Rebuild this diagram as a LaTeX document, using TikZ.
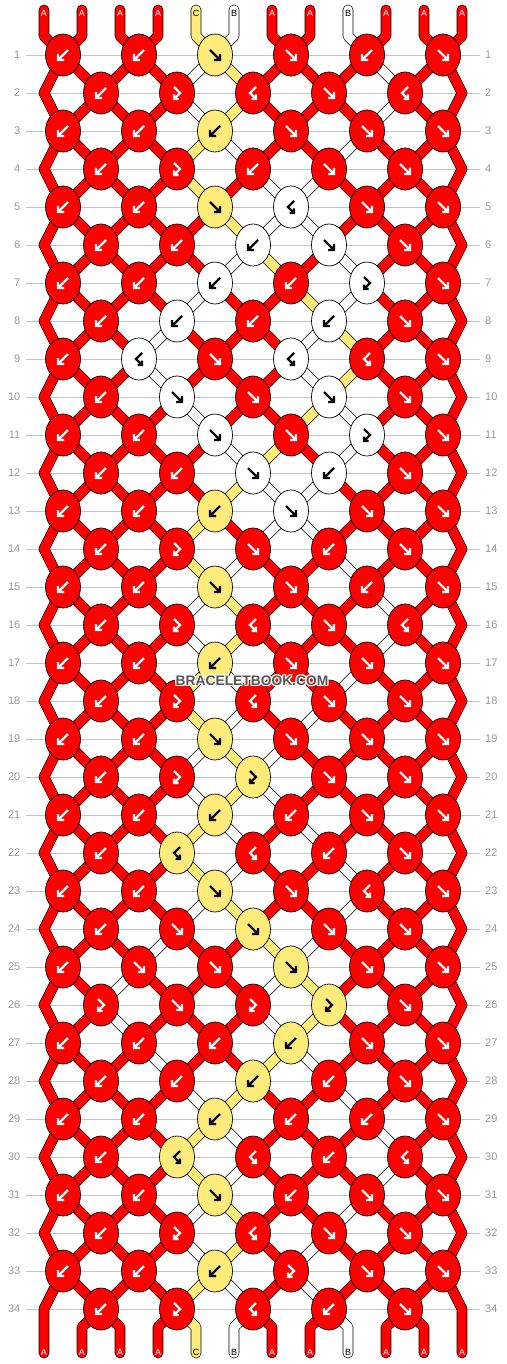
\documentclass[tikz,border=0pt]{standalone}
\usepackage{fontspec}
\setmainfont{Liberation Sans}
\pgfdeclarelayer{knots}
\pgfsetlayers{main,knots}

\definecolor{strA}{HTML}{FF0000}
\definecolor{strB}{HTML}{FFFFFF}
\definecolor{strC}{HTML}{FFEB7A}
\colorlet{arrA}{white}
\colorlet{arrB}{black}
\colorlet{arrC}{black}
\definecolor{rowgrey}{HTML}{C4C4C4}
\definecolor{numgrey}{HTML}{999999}
\definecolor{brandgrey}{HTML}{555555}

\tikzset{
  strand/.style={draw=black, line width=0.65pt, double=str#1, double distance=9.4pt,
    line cap=round, line join=round},
  knotbox/.style={draw=black, line width=0.7pt, fill=str#1},
  knotarrow/.style={line width=2.4pt, line cap=butt, line join=miter},
  rowline/.style={rowgrey, line width=0.8pt},
  rownum/.style={numgrey, font=\fontsize{11}{11}\selectfont, inner sep=0pt},
  tablabel/.style={font=\fontsize{9}{9}\selectfont, inner sep=0pt},
  brandtext/.style={font=\fontsize{13.8}{14}\selectfont\bfseries, inner sep=0pt}
}

% arrow glyphs drawn inside a knot
\newcommand{\glyphf}{\draw[knotarrow] (-5,-5) -- (5,5) (5,-1) -- (5,5) -- (-1,5);}
\newcommand{\glyphb}{\draw[knotarrow] (5,-5) -- (-5,5) (-5,-1) -- (-5,5) -- (1,5);}
\newcommand{\glyphfb}{\draw[knotarrow] (-3,-6) -- (3,0) -- (-3,6) (-3,1.5) -- (-3,6) -- (1.5,6);}
\newcommand{\glyphbf}{\draw[knotarrow] (3,-6) -- (-3,0) -- (3,6) (3,1.5) -- (3,6) -- (-1.5,6);}

% knot kinds: colour from left string?  strings swap?
\newcommand{\setknotf}{\def\takeleft{1}\def\doswap{1}}
\newcommand{\setknotb}{\def\takeleft{0}\def\doswap{1}}
\newcommand{\setknotfb}{\def\takeleft{1}\def\doswap{0}}
\newcommand{\setknotbf}{\def\takeleft{0}\def\doswap{0}}

\begin{document}
\begin{tikzpicture}[x=1pt, y=-1pt]
\fill[white] (0,0) rectangle (506,1364);
\useasboundingbox (0,0) rectangle (506,1364);

% row rules and numbers
\foreach \row in {1,...,34} {
  \pgfmathsetmacro\ky{55+38*(\row-1)}
  \draw[rowline] (26,\ky) -- (480,\ky);
  \node[rownum, anchor=east] (numl\row) at (20.5,\ky) {\row};
  \node[rownum, anchor=west] (numr\row) at (485,\ky) {\row};
}

% strings at the top
\foreach \strc [count=\p] in {A,A,A,A,C,B,A,A,B,A,A,A} {
  \pgfmathsetmacro\sx{44+38*(\p-1)}
  \expandafter\xdef\csname s\p\endcsname{\strc}
  \expandafter\xdef\csname pp\p\endcsname{(\sx,10) -- (\sx,36)}
  \begin{pgfonlayer}{knots}
    \edef\labcmd{\noexpand\node[tablabel, text=arr\strc] (top\p) at (\sx,13.5) {\strc};}
    \labcmd
  \end{pgfonlayer}
}

% knots, row by row
\foreach \row/\kl in {
  1/{b,b,f,f,b,f},      2/{b,fb,bf,f,bf},
  3/{b,b,b,f,f,f},      4/{b,fb,b,f,f},
  5/{b,b,f,bf,f,f},     6/{b,b,b,f,f},
  7/{b,b,b,b,fb,f},     8/{b,b,b,b,f},
  9/{b,bf,f,bf,bf,f},   10/{b,f,f,f,f},
  11/{b,b,f,f,fb,f},    12/{b,b,f,b,f},
  13/{b,b,b,f,f,f},     14/{b,fb,f,b,f},
  15/{b,b,f,f,b,f},     16/{b,fb,bf,f,bf},
  17/{b,b,b,f,f,f},     18/{b,fb,bf,f,f},
  19/{b,b,f,f,f,f},     20/{b,fb,fb,f,f},
  21/{b,b,b,b,f,f},     22/{b,bf,bf,b,f},
  23/{b,b,f,f,bf,f},    24/{b,f,f,f,f},
  25/{b,f,f,f,f,f},     26/{fb,f,fb,fb,f},
  27/{b,b,b,b,f,f},     28/{b,b,b,b,f},
  29/{b,b,b,b,b,f},     30/{b,bf,bf,b,bf},
  31/{b,b,f,b,f,f},     32/{b,fb,bf,f,f},
  33/{b,b,b,fb,f,f},    34/{b,fb,bf,b,f}} {
  \pgfmathsetmacro\ky{55+38*(\row-1)}
  \ifodd\row\else
    \expandafter\xdef\csname pp1\endcsname{\csname pp1\endcsname -- (44,\ky)}
    \expandafter\xdef\csname pp12\endcsname{\csname pp12\endcsname -- (462,\ky)}
  \fi
  \foreach \ty [count=\kn] in \kl {
    \ifodd\row
      \pgfmathtruncatemacro\li{2*\kn-1}
      \pgfmathsetmacro\kx{63+76*(\kn-1)}
    \else
      \pgfmathtruncatemacro\li{2*\kn}
      \pgfmathsetmacro\kx{101+76*(\kn-1)}
    \fi
    \pgfmathtruncatemacro\ri{\li+1}
    \edef\lc{\csname s\li\endcsname}
    \edef\rc{\csname s\ri\endcsname}
    \edef\segs{\noexpand\draw[strand=\lc] \csname pp\li\endcsname -- (\kx,\ky);
      \noexpand\draw[strand=\rc] \csname pp\ri\endcsname -- (\kx,\ky);}
    \segs
    \csname setknot\ty\endcsname
    \ifnum\takeleft=1 \let\kc\lc \else \let\kc\rc \fi
    \ifnum\doswap=1
      \expandafter\xdef\csname s\li\endcsname{\rc}
      \expandafter\xdef\csname s\ri\endcsname{\lc}
    \fi
    \expandafter\xdef\csname pp\li\endcsname{(\kx,\ky)}
    \expandafter\xdef\csname pp\ri\endcsname{(\kx,\ky)}
    \begin{pgfonlayer}{knots}
      \edef\knotcmd{\noexpand\filldraw[knotbox=\kc] (\kx,\ky) ellipse [x radius=17.5, y radius=21];
        \noexpand\begin{scope}[shift={(\kx,\ky)}, color=arr\kc]}
      \knotcmd
        \csname glyph\ty\endcsname
      \end{scope}
    \end{pgfonlayer}
  }
}

% strings at the bottom
\foreach \p in {1,...,12} {
  \pgfmathsetmacro\sx{44+38*(\p-1)}
  \edef\lc{\csname s\p\endcsname}
  \edef\segs{\noexpand\draw[strand=\lc] \csname pp\p\endcsname -- (\sx,1327) -- (\sx,1353);}
  \segs
  \begin{pgfonlayer}{knots}
    \edef\labcmd{\noexpand\node[tablabel, text=arr\lc] (bot\p) at (\sx,1352.5) {\lc};}
    \labcmd
  \end{pgfonlayer}
}

% site mark
\begin{pgfonlayer}{knots}
  \foreach \dx/\dy in {-1/0,1/0,0/-1,0/1,-1/-1,1/1,-1/1,1/-1}
    \node[brandtext, white] at (252+\dx,681+\dy) {BRACELETBOOK.COM};
  \node[brandtext, brandgrey] (brand) at (252,681) {BRACELETBOOK.COM};
\end{pgfonlayer}
\end{tikzpicture}
\end{document}
